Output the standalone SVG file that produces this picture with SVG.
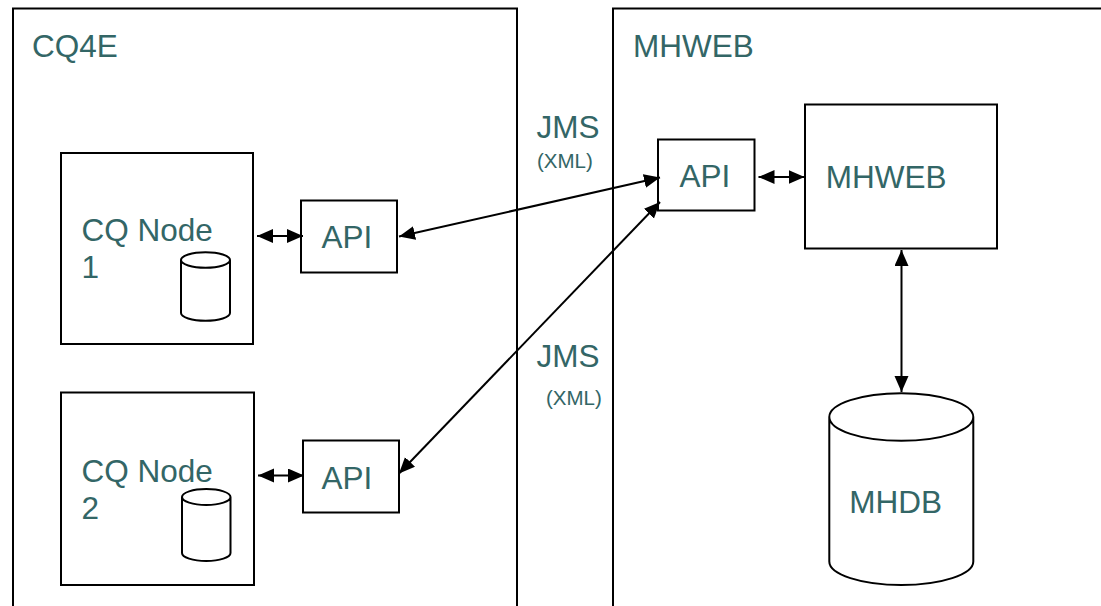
<svg xmlns="http://www.w3.org/2000/svg" width="1101" height="606" viewBox="0 0 1101 606">
<style>
.box{fill:#fff;stroke:#000;stroke-width:2}
.frame{fill:none;stroke:#000;stroke-width:2}
.t{font-family:"Liberation Sans",Arial,sans-serif;font-size:31.5px;fill:#336666}
.s{font-family:"Liberation Sans",Arial,sans-serif;font-size:20.5px;fill:#336666}
.c{fill:none;stroke:#000;stroke-width:2;marker-start:url(#ah);marker-end:url(#ah)}
.db{fill:#fff;stroke:#000;stroke-width:2}
</style>
<defs>
<marker id="ah" markerUnits="userSpaceOnUse" markerWidth="17" markerHeight="15" refX="16" refY="7" orient="auto-start-reverse">
<path d="M0,0 L16,7 L0,14 z" fill="#000"/>
</marker>
</defs>
<rect width="1101" height="606" fill="#fff"/>
<g id="cq4e">
<rect class="frame" x="13" y="8.5" width="504" height="620"/>
<text class="t" x="32" y="57">CQ4E</text>
</g>
<g id="mhweb-area">
<rect class="frame" x="613" y="8.5" width="520" height="620"/>
<text class="t" x="633" y="56.5">MHWEB</text>
</g>
<g id="jms1">
<text class="t" x="536.5" y="137.7">JMS</text>
<text class="s" x="537" y="168.3">(XML)</text>
</g>
<g id="jms2">
<text class="t" x="536.5" y="366.7">JMS</text>
<text class="s" x="546" y="404.5">(XML)</text>
</g>
<g id="cqnode1">
<rect class="box" x="61" y="153" width="192" height="191"/>
<text class="t" x="81.5" y="240.7">CQ Node</text>
<text class="t" x="81.5" y="278">1</text>
<path class="db" d="M181,260 L181,313 A24.5,7.7 0 0 0 230,313 L230,260 A24.5,7.7 0 0 0 181,260 A24.5,7.7 0 0 0 230,260"/>
</g>
<g id="cqnode2">
<rect class="box" x="61" y="392.5" width="193" height="192.5"/>
<text class="t" x="81.5" y="481.7">CQ Node</text>
<text class="t" x="81.5" y="519.3">2</text>
<path class="db" d="M182,497 L182,553 A24.25,8 0 0 0 230.5,553 L230.5,497 A24.25,8 0 0 0 182,497 A24.25,8 0 0 0 230.5,497"/>
</g>
<g id="api1">
<rect class="box" x="301" y="200.5" width="96" height="72"/>
<text class="t" x="321.5" y="248">API</text>
</g>
<g id="api2">
<rect class="box" x="303" y="440.5" width="96" height="72"/>
<text class="t" x="321.5" y="488.5">API</text>
</g>
<g id="api-mh">
<rect class="box" x="658" y="139.5" width="96.5" height="71"/>
<text class="t" x="679.5" y="187.3">API</text>
</g>
<g id="mhweb">
<rect class="box" x="805" y="104.5" width="192" height="144"/>
<text class="t" x="825.8" y="188.3">MHWEB</text>
</g>
<g id="mhdb">
<path class="db" d="M829.3,417 L829.3,561.5 A72,23.5 0 0 0 973.3,561.5 L973.3,417 A72,23.8 0 0 0 829.3,417 A72,23.8 0 0 0 973.3,417"/>
<text class="t" x="849.3" y="512.7">MHDB</text>
</g>
<g id="connectors">
<line class="c" x1="257" y1="236" x2="303" y2="236"/>
<line class="c" x1="258" y1="475.5" x2="304" y2="475.5"/>
<line class="c" x1="399" y1="236.5" x2="660" y2="177.5"/>
<line class="c" x1="399" y1="473.5" x2="660" y2="202"/>
<line class="c" x1="758.5" y1="177" x2="804.5" y2="177"/>
<line class="c" x1="901.5" y1="250" x2="901.5" y2="392"/>
</g>
</svg>
